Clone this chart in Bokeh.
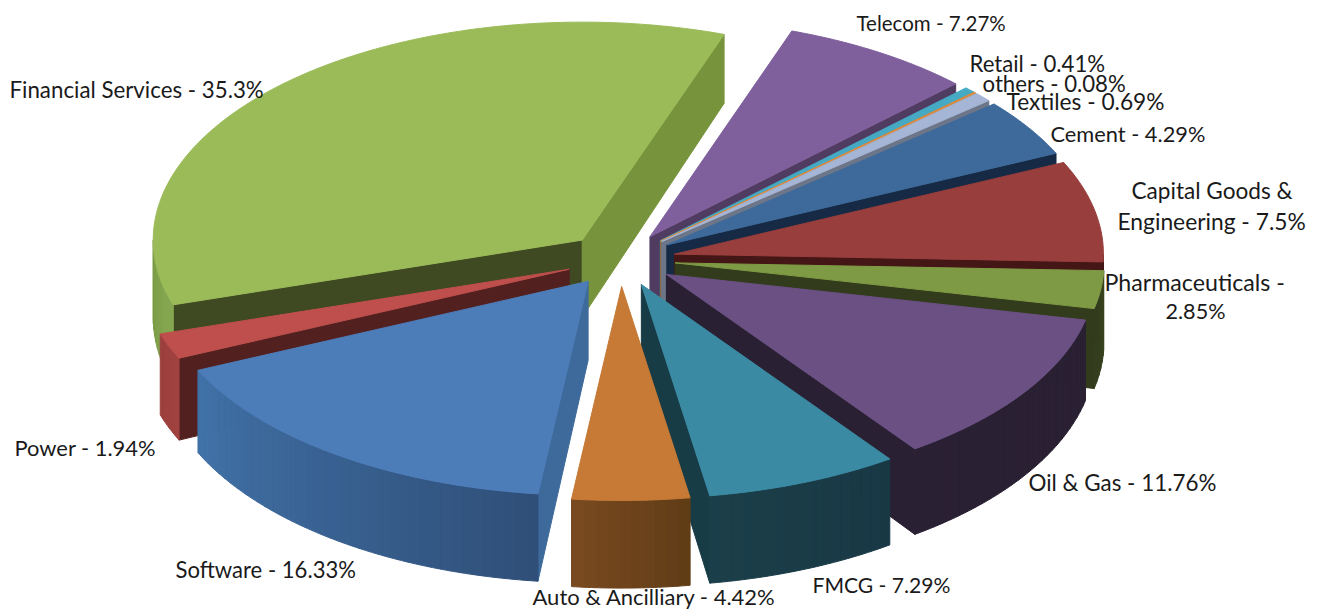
import math
from bokeh.plotting import figure
from bokeh.models import Range1d, ColumnDataSource
from bokeh.core.properties import value
from bokeh.embed import file_html
from bokeh.resources import INLINE

# Data, clockwise from the Financial Services slice
categories = ["Financial Services", "Telecom", "Retail", "others", "Textiles", "Cement",
              "Capital Goods & Engineering", "Pharmaceuticals", "Oil & Gas", "FMCG",
              "Auto & Ancilliary", "Software", "Power"]
shares = [35.3, 7.27, 0.41, 0.08, 0.69, 4.29, 7.5, 2.85, 11.76, 7.29, 4.42, 16.33, 1.94]

# Styles per slice
top_colors = ["#9BBB59", "#7F609D", "#46AAC4", "#E08A3C", "#A5B5D5", "#3E6A9B", "#983E3C",
              "#7F9A45", "#6A5083", "#3B8AA3", "#C67A36", "#4C7DB9", "#BE4F4C"]
cut_colors = ["#77933C", "#503C60", "#2C7A8C", "#A8672C", "#6C7688", "#172A45", "#451616",
              "#323B1C", "#2A2033", "#183C46", "#7A4A20", "#3E6A9B", "#532020"]
start_colors = ["#3F4A22", "#503C60", "#2C7A8C", "#A8672C", "#6C7688", "#172A45", "#451616",
                "#323B1C", "#2A2033", "#183C46", "#7A4A20", "#3E6A9B", "#532020"]
rim_start = ["#86A850", "#503C60", "#2C7A8C", "#A8672C", "#6C7688", "#172A45", "#451616",
             "#3A451F", "#2A2033", "#183844", "#603C16", "#2F4F78", "#A04240"]
rim_end = ["#7A9A46", "#503C60", "#2C7A8C", "#A8672C", "#6C7688", "#172A45", "#451616",
           "#323B1C", "#2A2033", "#1B3F4A", "#7A4A20", "#4172A8", "#9C3F3D"]

# Labels: text rows, their anchors and sizes
label_rows = ["Financial Services - 35.3%", "Telecom - 7.27%", "Retail - 0.41%", "others - 0.08%",
              "Textiles - 0.69%", "Cement - 4.29%", "Capital Goods &", "Engineering - 7.5%",
              "Pharmaceuticals -", "2.85%", "Oil & Gas  - 11.76%", "FMCG - 7.29%",
              "Auto & Ancilliary - 4.42%", "Software - 16.33%", "Power - 1.94%"]
label_x = [9, 856, 969, 982, 1006, 1050, 1131, 1117, 1104, 1165, 1028, 812, 532, 175, 14]
label_y = [89, 22, 63, 83, 101, 133, 190, 220, 281, 310, 482, 584, 596, 569, 447]
label_sizes = ["22.3px", "20.5px", "22.2px", "22.2px", "22.7px", "21.8px", "22.6px", "22.8px",
               "23.2px", "21.6px", "22.4px", "21.1px", "22px", "22.1px", "21.9px"]

# Projection of the pie
CX, CY = 620, 259
EX, EY = 55, 27
RX = 429
RY_BACK, RY_FRONT = 218, 214
FIRST_START = 252.4   # degrees clockwise from the top


def depth(y):
    return 78 + 0.04 * (y - 260)


def hex2rgb(c):
    return tuple(int(c[i:i + 2], 16) for i in (1, 3, 5))


def mix(a, b, t):
    ra, rb = hex2rgb(a), hex2rgb(b)
    return "#%02x%02x%02x" % tuple(round(ra[i] + (rb[i] - ra[i]) * t) for i in range(3))


total = sum(shares)
slices = []
angle = FIRST_START
for i, s in enumerate(shares):
    sweep = s / total * 360
    slices.append((i, angle, angle + sweep))
    angle += sweep

xs, ys, fills = [], [], []


def add(px, py, color):
    xs.append(px)
    ys.append(py)
    fills.append(color)


def rim(ax, ay, a):
    r = math.radians(a)
    c = math.cos(r)
    return ax + RX * math.sin(r), ay - (RY_BACK if c > 0 else RY_FRONT) * c


def wall(p1, p2, color):
    add([p1[0], p2[0], p2[0], p1[0]],
        [p1[1], p2[1], p2[1] + depth(p2[1]), p1[1] + depth(p1[1])], color)


def arc_pts(ax, ay, u, v):
    n = max(2, int((v - u) / 0.5))
    return [rim(ax, ay, u + (v - u) * k / n) for k in range(n + 1)]


order = sorted(slices, key=lambda t: -math.cos(math.radians((t[1] + t[2]) / 2)))
for i, a0, a1 in order:
    mid = math.radians((a0 + a1) / 2)
    ax = CX + EX * math.sin(mid)
    ay = CY - EY * math.cos(mid)
    apex = (ax, ay)
    # Radial cut faces that look towards the viewer
    if math.sin(math.radians(a0)) < 0:
        wall(apex, rim(ax, ay, a0), start_colors[i])
    if math.sin(math.radians(a1)) > 0:
        wall(apex, rim(ax, ay, a1), cut_colors[i])
    # Outer face: only its front half, in shaded bands
    for lo, hi in ((90, 270), (450, 630)):
        u, v = max(a0, lo), min(a1, hi)
        if u >= v:
            continue
        bands = max(1, int((v - u) / 1.5))
        for b in range(bands):
            bu = u + (v - u) * b / bands
            bv = u + (v - u) * (b + 1) / bands
            pts = arc_pts(ax, ay, bu, bv)
            bx = [q[0] for q in pts]
            add(bx + bx[::-1],
                [q[1] for q in pts] + [q[1] + depth(q[1]) for q in pts[::-1]],
                mix(rim_start[i], rim_end[i], (b + 0.5) / bands))
    # Top face
    pts = arc_pts(ax, ay, a0, a1)
    add([ax] + [q[0] for q in pts], [ay] + [q[1] for q in pts], top_colors[i])

p = figure(width=1319, height=610, toolbar_location=None, output_backend="svg",
           x_range=Range1d(0, 1319), y_range=Range1d(610, 0),
           min_border=0, outline_line_color=None)
p.axis.visible = False
p.grid.visible = False
p.patches(xs="xs", ys="ys", fill_color="fill", line_color="fill", line_width=1,
          source=ColumnDataSource(dict(xs=xs, ys=ys, fill=fills)))
p.text(x="x", y="y", text="t", text_font=value("Lato"), text_font_size="s",
       text_color="#1a1a1a", text_baseline="middle", text_align="left",
       source=ColumnDataSource(dict(x=label_x, y=label_y, t=label_rows, s=label_sizes)))

open("out.html", "w").write(file_html(p, INLINE))
